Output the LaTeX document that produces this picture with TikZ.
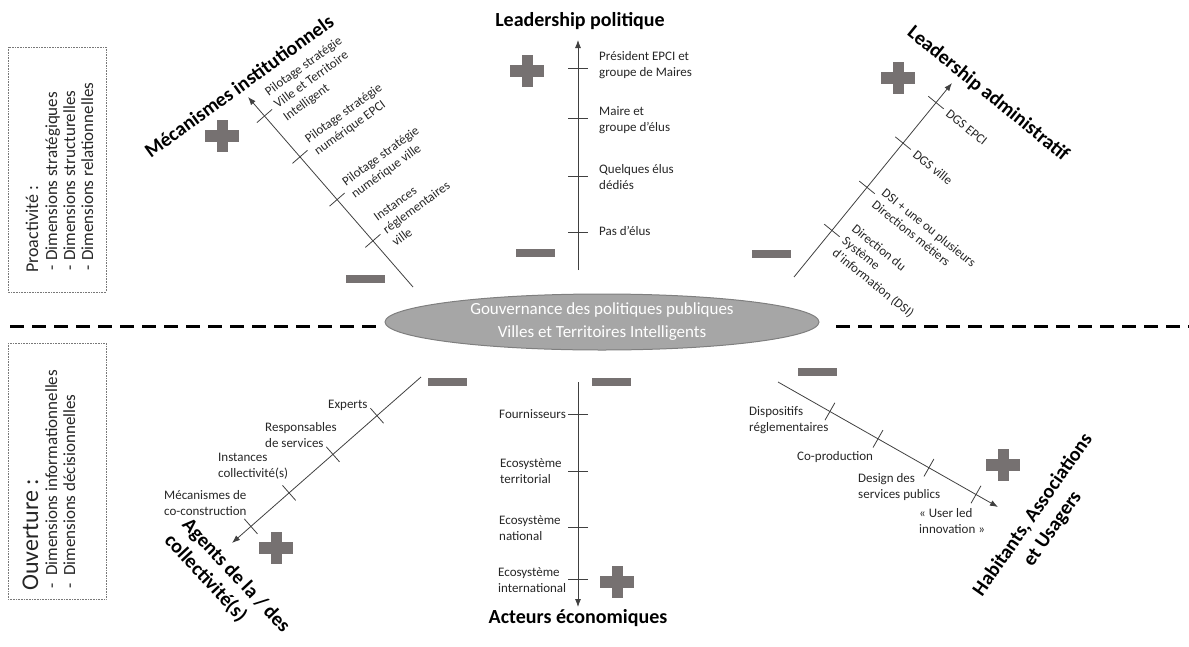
\documentclass[tikz,border=0pt]{standalone}
\usepackage{fontspec}
\setmainfont{Carlito}
\usetikzlibrary{arrows.meta,calc,shapes.geometric}

\definecolor{signgray}{RGB}{118,113,113}
\definecolor{axisgray}{RGB}{64,64,64}
\definecolor{labelgray}{RGB}{38,38,38}
\definecolor{ellfill}{RGB}{166,166,166}
\definecolor{elldraw}{RGB}{127,127,127}
\definecolor{boxgray}{RGB}{120,120,120}

\tikzset{
  axisline/.style={draw=axisgray, line width=0.8pt, -{Latex[length=8pt,width=6pt]}},
  tickline/.style={draw=axisgray, line width=0.8pt},
  lbl/.style={font=\fontsize{13}{15.5}\selectfont, text=labelgray, align=left, inner sep=0pt},
  ttl/.style={font=\fontsize{20}{24}\selectfont\bfseries, text=black, inner sep=0pt},
  boxtxt/.style={rotate=90, anchor=base west, inner sep=0pt, text=labelgray},
  boxframe/.style={draw=boxgray, line width=0.6pt, densely dotted},
  dashline/.style={draw=black, line width=3pt, dash pattern=on 14pt off 8pt},
  plussign/.pic={\fill[signgray] (-17,-5.75) rectangle (17,5.75); \fill[signgray] (-5.5,-16) rectangle (5.5,16);},
  minussign/.pic={\fill[signgray] (-19.5,-4) rectangle (19.5,4);},
}

\begin{document}
\begin{tikzpicture}[x=1pt, y=-1pt]
\useasboundingbox (0,0) rectangle (1189,646);

% ---------- left boxes ----------
\draw[boxframe] (8,47) rectangle (106,292);
\node[boxtxt, font=\fontsize{18}{18}\selectfont] (pro) at (38,273) {Proactivité :};
\node[boxtxt, font=\fontsize{17}{17}\selectfont] (pd1) at (57,271) {-};
\node[boxtxt, font=\fontsize{17}{17}\selectfont] (pd2) at (75,271) {-};
\node[boxtxt, font=\fontsize{17}{17}\selectfont] (pd3) at (93,271) {-};
\node[boxtxt, font=\fontsize{17}{17}\selectfont] (pi1) at (57,261) {Dimensions stratégiques};
\node[boxtxt, font=\fontsize{17}{17}\selectfont] (pi2) at (75,261) {Dimensions structurelles};
\node[boxtxt, font=\fontsize{17}{17}\selectfont] (pi3) at (93,261) {Dimensions relationnelles};

\draw[boxframe] (8,343) rectangle (106,599);
\node[boxtxt, font=\fontsize{24}{24}\selectfont] (ouv) at (38,591) {Ouverture :};
\node[boxtxt, font=\fontsize{17}{17}\selectfont] (od1) at (57,589) {-};
\node[boxtxt, font=\fontsize{17}{17}\selectfont] (od2) at (75,589) {-};
\node[boxtxt, font=\fontsize{17}{17}\selectfont] (oi1) at (57,576) {Dimensions informationnelles};
\node[boxtxt, font=\fontsize{17}{17}\selectfont] (oi2) at (75,576) {Dimensions décisionnelles};

% ---------- centre ----------
\node[ellipse, fill=ellfill, draw=elldraw, line width=1pt, minimum width=434pt, minimum height=56pt,
      inner sep=0pt, text=white, align=center, font=\fontsize{17}{23}\selectfont] (gov) at (602,322)
      {Gouvernance des politiques publiques\\Villes et Territoires Intelligents};
\coordinate (dl0) at (10,326);
\coordinate (dl1) at (383,326);
\coordinate (dr0) at (836,326);
\coordinate (dr1) at (1189,326);
\draw[dashline] (dl0) -- (dl1);
\draw[dashline] (dr0) -- (dr1);

% ---------- top-left axis : Mécanismes institutionnels ----------
\coordinate (s1) at (413,287);
\coordinate (e1) at (248,97);
\draw[axisline] (s1) -- (e1);
\foreach \t/\n in {0.243/a,0.46/b,0.685/c,0.9/d}{
  \coordinate (t1\n) at ($(s1)!\t!(e1)$);
  \draw[tickline] ($(t1\n)!10pt!90:(e1)$) -- ($(t1\n)!10pt!-90:(e1)$);
}
\node[lbl, rotate=36, anchor=west] (l1d) at ($(t1d)!15pt!-90:(e1)$) {Pilotage stratégie\\Ville et Territoire\\Intelligent};
\node[lbl, rotate=36, anchor=west] (l1c) at ($(t1c)!15pt!-90:(e1)$) {Pilotage stratégie\\numérique EPCI};
\node[lbl, rotate=36, anchor=west] (l1b) at ($(t1b)!15pt!-90:(e1)$) {Pilotage stratégie\\numérique ville};
\node[lbl, rotate=36, anchor=west] (l1a) at ($(t1a)!15pt!-90:(e1)$) {Instances\\réglementaires\\ville};
\node[ttl, rotate=36] (tmec) at (239,86) {Mécanismes institutionnels};
\pic at (222,136) {plussign};
\pic at (365,279) {minussign};

% ---------- top-middle axis : Leadership politique ----------
\coordinate (s3) at (578,270);
\coordinate (e3) at (578,40);
\draw[axisline] (s3) -- (e3);
\foreach \t/\n in {0.165/a,0.409/b,0.657/c,0.878/d}{
  \coordinate (t3\n) at ($(s3)!\t!(e3)$);
  \draw[tickline] ($(t3\n)!10pt!90:(e3)$) -- ($(t3\n)!10pt!-90:(e3)$);
}
\node[lbl, anchor=west] (l3d) at (599,65) {Président EPCI et\\groupe de Maires};
\node[lbl, anchor=west] (l3c) at (599,120) {Maire et\\groupe d’élus};
\node[lbl, anchor=west] (l3b) at (599,177) {Quelques élus\\dédiés};
\node[lbl, anchor=west] (l3a) at (599,231) {Pas d’élus};
\node[ttl] (tpol) at (580,21) {Leadership politique};
\pic at (527,71) {plussign};
\pic at (535.5,253) {minussign};

% ---------- top-right axis : Leadership administratif ----------
\coordinate (s2) at (794,277);
\coordinate (e2) at (952,83);
\draw[axisline] (s2) -- (e2);
\foreach \t/\n in {0.24/a,0.462/b,0.69/c,0.899/d}{
  \coordinate (t2\n) at ($(s2)!\t!(e2)$);
  \draw[tickline] ($(t2\n)!10pt!90:(e2)$) -- ($(t2\n)!10pt!-90:(e2)$);
}
\node[lbl, rotate=-39, anchor=west] (l2d) at ($(t2d)!15pt!-90:(e2)$) {DGS EPCI};
\node[lbl, rotate=-39, anchor=west] (l2c) at ($(t2c)!15pt!-90:(e2)$) {DGS ville};
\node[lbl, rotate=-39, anchor=west] (l2b) at ($(t2b)!15pt!-90:(e2)$) {DSI + une ou plusieurs\\Directions métiers};
\node[lbl, rotate=-39, anchor=west] (l2a) at ($(t2a)!15pt!-90:(e2)$) {Direction du\\Système\\d’information (DSI)};
\node[ttl, rotate=-39] (tadm) at (988,94) {Leadership administratif};
\pic at (898,78) {plussign};
\pic at (771,253.5) {minussign};

% ---------- bottom-left axis : Agents ----------
\coordinate (s4) at (421,377);
\coordinate (e4) at (232,543);
\draw[axisline] (s4) -- (e4);
\foreach \t/\n in {0.233/a,0.466/b,0.698/c,0.9/d}{
  \coordinate (t4\n) at ($(s4)!\t!(e4)$);
  \draw[tickline] ($(t4\n)!10pt!90:(e4)$) -- ($(t4\n)!10pt!-90:(e4)$);
}
\node[lbl, anchor=west] (l4a) at (328,405) {Experts};
\node[lbl, anchor=west] (l4b) at (265,435) {Responsables\\de services};
\node[lbl, anchor=west] (l4c) at (218,466) {Instances\\collectivité(s)};
\node[lbl, anchor=west] (l4d) at (164,503) {Mécanismes de\\co-construction};
\node[ttl, rotate=-47, align=left] (tage) at (227,584) {Agents de la / des\\collectivité(s)};
\pic at (276,548) {plussign};
\pic at (447,382) {minussign};

% ---------- bottom-middle axis : Acteurs économiques ----------
\coordinate (s5) at (578,382);
\coordinate (e5) at (578,607);
\draw[axisline] (s5) -- (e5);
\foreach \t/\n in {0.142/a,0.396/b,0.644/c,0.876/d}{
  \coordinate (t5\n) at ($(s5)!\t!(e5)$);
  \draw[tickline] ($(t5\n)!10pt!90:(e5)$) -- ($(t5\n)!10pt!-90:(e5)$);
}
\node[lbl, anchor=west] (l5a) at (499,414) {Fournisseurs};
\node[lbl, anchor=west] (l5b) at (500,471) {Ecosystème\\territorial};
\node[lbl, anchor=west] (l5c) at (499,528) {Ecosystème\\national};
\node[lbl, anchor=west] (l5d) at (498,580) {Ecosystème\\international};
\node[ttl] (teco) at (578,618) {Acteurs économiques};
\pic at (617,582) {plussign};
\pic at (611.5,381.5) {minussign};

% ---------- bottom-right axis : Habitants ----------
\coordinate (s6) at (778,382);
\coordinate (e6) at (998,507);
\draw[axisline] (s6) -- (e6);
\foreach \t/\n in {0.236/a,0.4545/b,0.686/c,0.9/d}{
  \coordinate (t6\n) at ($(s6)!\t!(e6)$);
  \draw[tickline] ($(t6\n)!10pt!90:(e6)$) -- ($(t6\n)!10pt!-90:(e6)$);
}
\node[lbl, anchor=west] (l6a) at (749,420) {Dispositifs\\réglementaires};
\node[lbl, anchor=west] (l6b) at (797,457) {Co-production};
\node[lbl, anchor=west] (l6c) at (858,487) {Design des\\services publics};
\node[lbl, anchor=west] (l6d) at (919,521) {« User led\\innovation »};
\node[ttl, rotate=55, align=center] (thab) at (1043,522) {Habitants, Associations\\et Usagers};
\pic at (1003,465) {plussign};
\pic at (817,371.5) {minussign};
\end{tikzpicture}
\end{document}
